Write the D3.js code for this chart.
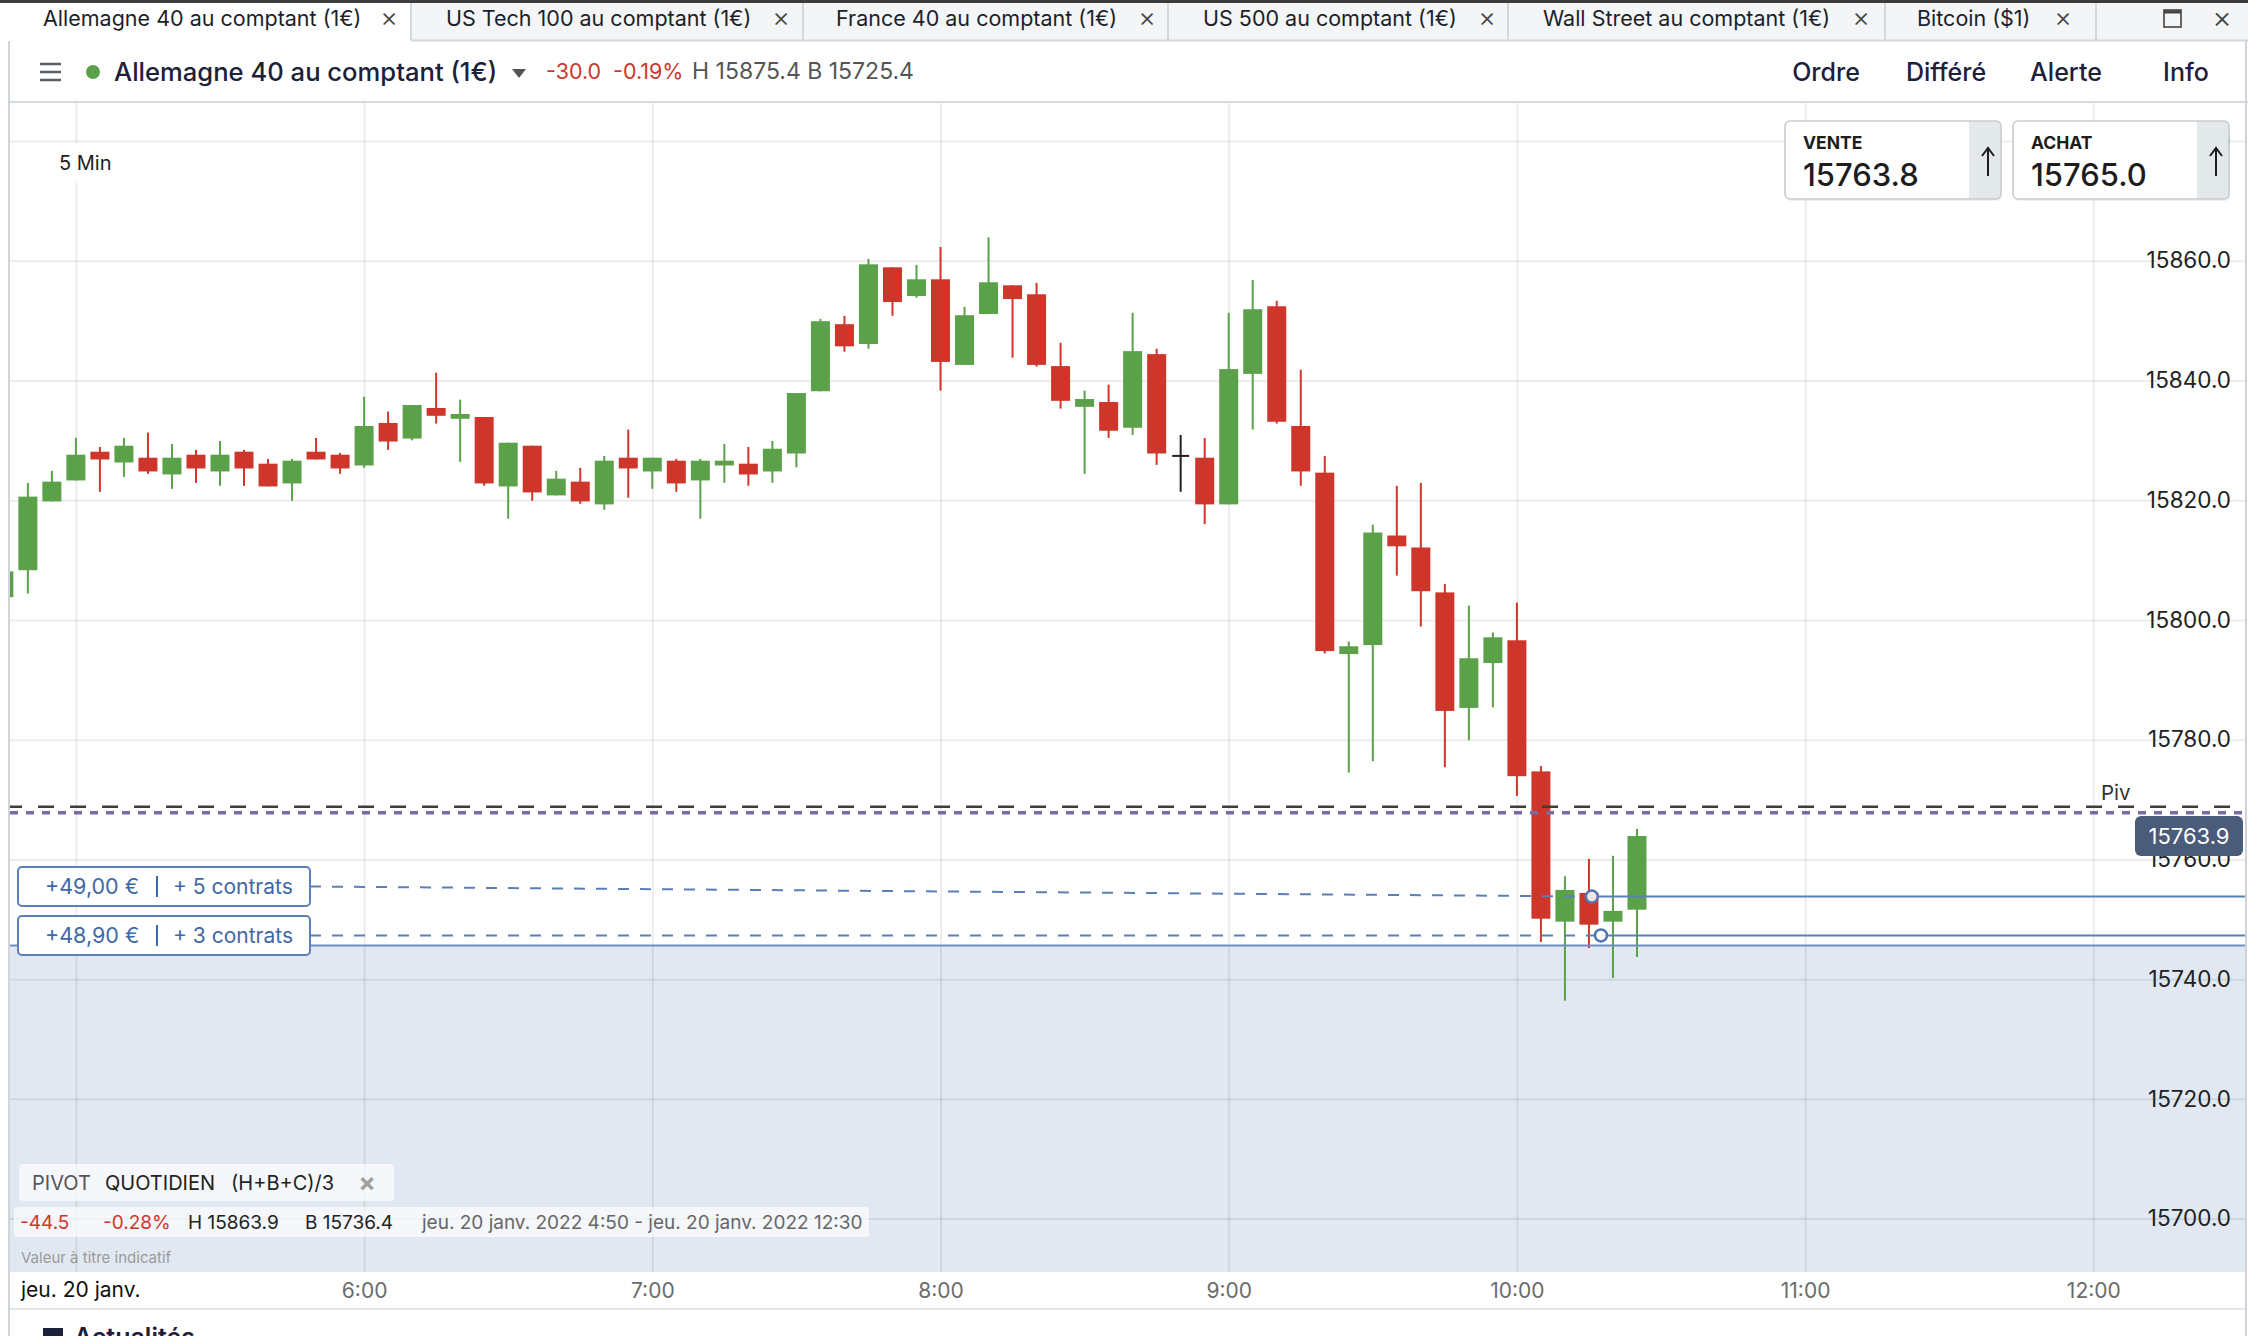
<!DOCTYPE html>
<html>
<head>
<meta charset="utf-8">
<script src="https://cdn.jsdelivr.net/npm/d3@7"></script>
<style>
body { margin: 0; background: #fff; }
svg { display: block; font-family: Inter, "Noto Sans", sans-serif; }
</style>
</head>
<body>
<svg id="chart" width="2248" height="1336"></svg>
<script>
// 5 min candles, jeu. 20 janv. 2022
const times = ["4:45","4:50","4:55","5:00","5:05","5:10","5:15","5:20","5:25","5:30","5:35","5:40","5:45","5:50","5:55",
  "6:00","6:05","6:10","6:15","6:20","6:25","6:30","6:35","6:40","6:45","6:50","6:55",
  "7:00","7:05","7:10","7:15","7:20","7:25","7:30","7:35","7:40","7:45","7:50","7:55",
  "8:00","8:05","8:10","8:15","8:20","8:25","8:30","8:35","8:40","8:45","8:50","8:55",
  "9:00","9:05","9:10","9:15","9:20","9:25","9:30","9:35","9:40","9:45","9:50","9:55",
  "10:00","10:05","10:10","10:15","10:20","10:25"];
const opens = [15803.8,15808.3,15819.8,15823.3,15828.1,15826.3,15827.1,15824.3,15827.6,15824.8,15828.1,15826.1,15822.8,15828.1,15827.6,
  15825.8,15832.9,15830.3,15835.4,15833.6,15833.9,15822.3,15829.1,15820.8,15823.1,15819.3,15827.1,
  15824.8,15826.6,15823.3,15825.8,15826.1,15824.8,15827.8,15838.2,15849.4,15846.1,15858.9,15854.1,
  15856.9,15842.6,15851.1,15855.9,15854.4,15842.4,15835.6,15836.4,15832.1,15844.4,15827.4,15827.1,
  15819.3,15841.1,15852.4,15832.4,15824.6,15794.3,15795.8,15814.1,15812.1,15804.6,15785.3,15792.8,
  15796.6,15774.7,15749.6,15754.4,15749.6,15751.6];
const highs = [15808.5,15822.9,15824.9,15830.4,15828.9,15830.4,15831.3,15829.4,15828.4,15829.9,15828.4,15826.9,15826.9,15830.4,15827.9,
  15837.3,15834.8,15835.9,15841.3,15836.8,15833.9,15829.6,15829.1,15824.9,15825.4,15827.4,15831.8,
  15827.1,15826.9,15826.9,15829.4,15828.9,15829.9,15837.9,15850.3,15850.8,15860.3,15858.9,15859.3,
  15862.3,15852.3,15863.9,15855.9,15856.3,15846.3,15838.3,15839.3,15851.3,15845.3,15830.9,15830.4,
  15851.3,15856.8,15853.3,15841.8,15827.4,15796.4,15815.9,15822.4,15822.9,15806.0,15802.4,15797.9,
  15802.9,15775.6,15757.2,15760.1,15760.6,15765.1];
const lows = [15803.5,15804.4,15819.8,15823.3,15821.4,15823.9,15824.4,15821.9,15822.9,15822.4,15822.4,15822.3,15819.9,15826.8,15824.4,
  15825.4,15828.4,15830.0,15832.8,15826.4,15822.4,15816.9,15819.9,15820.8,15819.4,15818.4,15820.4,
  15821.9,15821.4,15816.9,15822.9,15822.4,15822.9,15825.5,15838.2,15844.8,15845.3,15850.8,15853.8,
  15838.3,15842.6,15851.1,15843.8,15842.3,15835.3,15824.4,15830.4,15830.9,15825.9,15821.4,15816.0,
  15819.3,15831.8,15832.8,15822.4,15794.4,15774.5,15776.4,15807.4,15798.9,15775.4,15779.9,15785.4,
  15770.6,15746.2,15736.4,15745.2,15740.2,15743.7];
const closes = [15808.1,15820.6,15823.1,15827.6,15826.8,15829.1,15824.8,15827.1,15825.3,15827.6,15825.3,15822.3,15826.6,15826.8,15825.3,
  15832.4,15829.8,15835.9,15834.1,15834.4,15822.8,15829.6,15821.3,15823.6,15819.8,15826.6,15825.3,
  15827.1,15822.8,15826.6,15826.6,15824.3,15828.6,15837.9,15849.9,15845.7,15859.4,15853.1,15856.9,
  15843.1,15850.9,15856.4,15853.6,15842.6,15836.6,15836.9,15831.6,15844.9,15827.8,15827.4,15819.3,
  15841.9,15851.9,15833.1,15824.8,15794.8,15795.6,15814.6,15812.3,15804.8,15784.8,15793.6,15797.1,
  15773.9,15750.1,15754.9,15749.1,15751.4,15763.9];

const priceTicks = [15700, 15720, 15740, 15760, 15780, 15800, 15820, 15840, 15860, 15880];
const gridHours = ["5:00","6:00","7:00","8:00","9:00","10:00","11:00","12:00"];
const hourLabels = ["6:00","7:00","8:00","9:00","10:00","11:00","12:00"];

const lastPrice = 15763.9;
const pivotLevel = 15768.8;
const prevLevel = 15767.8;
const zoneLevel = 15745.6;
const positionLevels = [15753.8, 15747.3];
const positionTimes = ["10:15:36", "10:17:30"];
const positionPnl = ["+49,00 €", "+48,90 €"];
const positionSize = ["+ 5 contrats", "+ 3 contrats"];

const tabNames = ["Allemagne 40 au comptant (1€)", "US Tech 100 au comptant (1€)", "France 40 au comptant (1€)",
  "US 500 au comptant (1€)", "Wall Street au comptant (1€)", "Bitcoin ($1)"];
const menuItems = ["Ordre", "Différé", "Alerte", "Info"];

const GREEN = "#5aa14a", RED = "#cf362b";
const svg = d3.select("#chart");
const W = 2248, H = 1336;
const plot = { left: 10, right: 2245, top: 103, bottom: 1272 };

const parse = d3.timeParse("%H:%M");
const parseS = d3.timeParse("%H:%M:%S");
const x = d3.scaleTime().domain([parse("8:00"), parse("12:00")]).range([940.5, 2093.3]);
const y = d3.scaleLinear().domain([15700, 15880]).range([1218.6, 141]);

const candles = times.map((t, i) => ({ t: parse(t), o: opens[i], h: highs[i], l: lows[i], c: closes[i] }));

// ---------- tabs & header
function drawTabs() {
  const tabEdges = [0, 411, 803, 1168, 1508, 1885, 2096];
  const textX = [43, 446, 836, 1203, 1543, 1917];
  const closeX = [389, 781, 1147, 1487, 1861, 2063];
  const g = svg.append("g");
  g.append("rect").attr("x", 0).attr("y", 0).attr("width", W).attr("height", 41).attr("fill", "#f3f5f6");
  g.append("rect").attr("x", 0).attr("y", 0).attr("width", tabEdges[1]).attr("height", 42).attr("fill", "#fff");
  g.append("line").attr("x1", tabEdges[1]).attr("x2", W).attr("y1", 40.5).attr("y2", 40.5)
    .attr("stroke", "#d3d8dc").attr("stroke-width", 2);
  g.append("rect").attr("x", 0).attr("y", 0).attr("width", W).attr("height", 3).attr("fill", "#3c3c3c");
  tabNames.forEach((name, i) => {
    const x0 = tabEdges[i];
    if (i > 0) g.append("line").attr("x1", x0).attr("x2", x0).attr("y1", 3).attr("y2", 40)
      .attr("stroke", "#d3d8dc").attr("stroke-width", 2);
    g.append("text").attr("x", textX[i]).attr("y", 26)
      .attr("font-size", 21.5).attr("fill", "#1c1f2a").text(name);
    g.append("text").attr("x", closeX[i]).attr("y", 27).attr("text-anchor", "middle")
      .attr("font-size", 27).attr("font-weight", 300).attr("fill", "#444").text("×");
  });
  g.append("line").attr("x1", 2096).attr("x2", 2096).attr("y1", 3).attr("y2", 40).attr("stroke", "#d3d8dc").attr("stroke-width", 2);
  g.append("rect").attr("x", 2164).attr("y", 10).attr("width", 17).attr("height", 17)
    .attr("fill", "none").attr("stroke", "#444").attr("stroke-width", 1.6);
  g.append("line").attr("x1", 2164).attr("x2", 2181).attr("y1", 12).attr("y2", 12).attr("stroke", "#444").attr("stroke-width", 3);
  g.append("text").attr("x", 2222).attr("y", 28).attr("text-anchor", "middle")
    .attr("font-size", 30).attr("font-weight", 300).attr("fill", "#444").text("×");
}

function drawHeader() {
  const g = svg.append("g");
  [64, 72, 80].forEach(yy => g.append("line").attr("x1", 40).attr("x2", 61).attr("y1", yy).attr("y2", yy)
    .attr("stroke", "#5a5f66").attr("stroke-width", 2.5));
  g.append("circle").attr("cx", 93).attr("cy", 72).attr("r", 7).attr("fill", GREEN);
  g.append("text").attr("x", 114).attr("y", 81).attr("font-size", 25.6).attr("font-weight", 500)
    .attr("fill", "#1b2138").text("Allemagne 40 au comptant (1€)");
  g.append("path").attr("d", "M512,69 L526,69 L519,78 Z").attr("fill", "#555");
  const stats = g.append("text").attr("y", 79).attr("font-size", 21.5);
  stats.append("tspan").attr("x", 546).attr("fill", RED).text("-30.0");
  stats.append("tspan").attr("x", 613).attr("fill", RED).text("-0.19%");
  stats.append("tspan").attr("x", 692).attr("fill", "#555").attr("font-size", 23).text("H 15875.4 B 15725.4");
  const menuX = [1826, 1946, 2066, 2186];
  menuItems.forEach((m, i) => g.append("text").attr("x", menuX[i]).attr("y", 81).attr("text-anchor", "middle")
    .attr("font-size", 25).attr("font-weight", 500).attr("fill", "#1b2138").text(m));
  g.append("line").attr("x1", 9).attr("x2", W).attr("y1", 102).attr("y2", 102).attr("stroke", "#d6dadd").attr("stroke-width", 2);
  g.append("line").attr("x1", 9).attr("x2", 9).attr("y1", 41).attr("y2", H).attr("stroke", "#d0d5da").attr("stroke-width", 2);
  g.append("line").attr("x1", 2246).attr("x2", 2246).attr("y1", 41).attr("y2", H).attr("stroke", "#cfd3d7").attr("stroke-width", 2);
}

// ---------- plot background, grid, axes
function drawGrid() {
  svg.append("defs").append("clipPath").attr("id", "plotclip").append("rect")
    .attr("x", plot.left).attr("y", plot.top).attr("width", plot.right - plot.left).attr("height", plot.bottom - plot.top);

  svg.append("rect").attr("x", plot.left).attr("y", y(zoneLevel)).attr("width", plot.right - plot.left)
    .attr("height", plot.bottom - y(zoneLevel)).attr("fill", "#e1e8f1");

  const gy = svg.append("g").attr("transform", `translate(${plot.left},0)`)
    .call(d3.axisRight(y).tickValues(priceTicks).tickSize(plot.right - plot.left).tickFormat(""));
  gy.select(".domain").remove();
  gy.selectAll("line").attr("stroke", "#000").attr("stroke-opacity", 0.075).attr("stroke-width", 2);

  const gx = svg.append("g").attr("transform", `translate(0,${plot.top})`)
    .call(d3.axisBottom(x).tickValues(gridHours.map(parse)).tickSize(plot.bottom - plot.top).tickFormat(""));
  gx.select(".domain").remove();
  gx.selectAll("line").attr("stroke", "#000").attr("stroke-opacity", 0.075).attr("stroke-width", 2);

  // time axis band
  svg.append("rect").attr("x", plot.left).attr("y", plot.bottom).attr("width", plot.right - plot.left)
    .attr("height", 37).attr("fill", "#fff");
  const ax = svg.append("g").attr("transform", `translate(0,1290)`)
    .call(d3.axisBottom(x).tickValues(hourLabels.map(parse)).tickSize(0).tickFormat(d3.timeFormat("%-H:%M")));
  ax.select(".domain").remove();
  ax.selectAll("text").attr("y", 0).attr("dy", "0.36em").attr("font-family", "Inter, sans-serif")
    .attr("font-size", 21).attr("fill", "#6b6b6b");
  svg.append("text").attr("x", 21).attr("y", 1297).attr("font-size", 21).attr("fill", "#111").text("jeu. 20 janv.");
  svg.append("line").attr("x1", plot.left).attr("x2", plot.right).attr("y1", 1309).attr("y2", 1309)
    .attr("stroke", "#e3e6e9").attr("stroke-width", 2);
  svg.append("rect").attr("x", 43).attr("y", 1328).attr("width", 20).attr("height", 14).attr("fill", "#1b2138");
  svg.append("text").attr("x", 74).attr("y", 1346).attr("font-size", 25).attr("font-weight", 600)
    .attr("fill", "#1b2138").text("Actualités");

  // 5 Min label
  svg.append("rect").attr("x", 43).attr("y", 143).attr("width", 86).attr("height", 40).attr("fill", "#fff");
  svg.append("text").attr("x", 59).attr("y", 170).attr("font-size", 20).attr("fill", "#222").text("5 Min");
}

function drawPriceLabels() {
  const g = svg.append("g").attr("transform", "translate(2231,0)")
    .call(d3.axisLeft(y).tickValues(priceTicks).tickSize(0).tickPadding(0).tickFormat(d3.format(".1f")));
  g.select(".domain").remove();
  g.selectAll("text").attr("font-family", "Inter, sans-serif").attr("font-size", 22.5).attr("fill", "#222");
}

// ---------- candles
function drawCandles() {
  const g = svg.append("g").attr("clip-path", "url(#plotclip)");
  const colour = d => d.c > d.o ? GREEN : d.c < d.o ? RED : "#222";
  g.selectAll("line.wick").data(candles).enter().append("line").attr("class", "wick")
    .attr("x1", d => x(d.t)).attr("x2", d => x(d.t))
    .attr("y1", d => y(d.h)).attr("y2", d => y(d.l))
    .attr("stroke", colour).attr("stroke-width", 2);
  g.selectAll("rect.body").data(candles).enter().append("rect").attr("class", "body")
    .attr("x", d => x(d.t) - (d.c === d.o ? 8.5 : 9.5))
    .attr("width", d => d.c === d.o ? 17 : 19)
    .attr("y", d => d.c === d.o ? y(d.c) - 1 : y(Math.max(d.o, d.c)))
    .attr("height", d => Math.max(2, Math.abs(y(d.o) - y(d.c))))
    .attr("fill", colour);
}

// ---------- levels, positions
function drawLevels() {
  const g = svg.append("g").attr("clip-path", "url(#plotclip)");
  g.append("line").attr("x1", plot.left).attr("x2", 2233).attr("y1", y(pivotLevel)).attr("y2", y(pivotLevel))
    .attr("stroke", "#3d3d3d").attr("stroke-width", 2.5).attr("stroke-dasharray", "16,16").attr("stroke-dashoffset", 4);
  g.append("line").attr("x1", plot.left).attr("x2", plot.right).attr("y1", y(prevLevel)).attr("y2", y(prevLevel))
    .attr("stroke", "#7a6aa1").attr("stroke-width", 3.5).attr("stroke-dasharray", "8,8");
  svg.append("text").attr("x", 2101).attr("y", 800).attr("font-size", 20.5).attr("fill", "#333").text("Piv");

  g.append("line").attr("x1", plot.left).attr("x2", plot.right).attr("y1", y(zoneLevel)).attr("y2", y(zoneLevel))
    .attr("stroke", "#6f8fbf").attr("stroke-width", 2);

  const boxY = [867, 916];
  positionLevels.forEach((lvl, i) => {
    const cx = x(parseS(positionTimes[i])), cy = y(lvl);
    const by = boxY[i] + 19.5;
    g.append("line").attr("x1", 310).attr("x2", cx).attr("y1", by).attr("y2", cy)
      .attr("stroke", "#5a80b6").attr("stroke-width", 2).attr("stroke-dasharray", "11,11");
    g.append("line").attr("x1", cx).attr("x2", plot.right).attr("y1", cy).attr("y2", cy)
      .attr("stroke", "#5a80b6").attr("stroke-width", 2);
    g.append("circle").attr("cx", cx).attr("cy", cy).attr("r", 6)
      .attr("fill", i === 0 ? "#f8e4e6" : "#fff").attr("fill-opacity", i === 0 ? 1 : 0.85)
      .attr("stroke", "#4f76ae").attr("stroke-width", 2.5);

    const b = svg.append("g").attr("transform", `translate(18,${boxY[i]})`);
    b.append("rect").attr("width", 292).attr("height", 39).attr("rx", 4).attr("fill", "#fff")
      .attr("stroke", "#5a80b6").attr("stroke-width", 2);
    b.append("text").attr("x", 27).attr("y", 27).attr("font-size", 21.5).attr("fill", "#3e69a6").text(positionPnl[i]);
    b.append("line").attr("x1", 139).attr("x2", 139).attr("y1", 9).attr("y2", 30).attr("stroke", "#3e69a6").attr("stroke-width", 2);
    b.append("text").attr("x", 155).attr("y", 27).attr("font-size", 21).attr("fill", "#3e69a6").text(positionSize[i]);
  });

  // last price badge
  const yb = y(lastPrice);
  svg.append("rect").attr("x", 2135).attr("y", yb - 20).attr("width", 108).attr("height", 40).attr("rx", 6).attr("fill", "#4b5b7a");
  svg.append("text").attr("x", 2189).attr("y", yb + 7.5).attr("text-anchor", "middle").attr("font-size", 22)
    .attr("fill", "#fff").text(d3.format(".1f")(lastPrice));
}

function drawQuoteBoxes() {
  const boxes = [{ x: 1785, label: "VENTE", value: "15763.8" }, { x: 2013, label: "ACHAT", value: "15765.0" }];
  boxes.forEach(bx => {
    const g = svg.append("g").attr("transform", `translate(${bx.x},121)`);
    g.append("rect").attr("x", 1).attr("y", 2).attr("width", 216).attr("height", 78).attr("rx", 5).attr("fill", "#000").attr("opacity", 0.06);
    g.append("rect").attr("width", 216).attr("height", 78).attr("rx", 5).attr("fill", "#fff");
    g.append("path").attr("d", "M184,0 H211 A5,5 0 0 1 216,5 V73 A5,5 0 0 1 211,78 H184 Z").attr("fill", "#e3e8eb");
    g.append("rect").attr("width", 216).attr("height", 78).attr("rx", 5).attr("fill", "none")
      .attr("stroke", "#c7ccd1").attr("stroke-width", 1.6);
    g.append("text").attr("x", 18).attr("y", 28).attr("font-size", 17.5).attr("font-weight", 700).attr("fill", "#1d1d1d").text(bx.label);
    g.append("text").attr("x", 18).attr("y", 65).attr("font-size", 31).attr("font-weight", 500).attr("fill", "#1d1d1d").text(bx.value);
    g.append("path").attr("d", "M203,55 V28 M197,35 L203,27 L209,35").attr("fill", "none")
      .attr("stroke", "#1d1d1d").attr("stroke-width", 2);
  });
}

function drawPivotLegend() {
  const g = svg.append("g");
  g.append("rect").attr("x", 19).attr("y", 1164).attr("width", 375).attr("height", 37).attr("rx", 4).attr("fill", "#fff").attr("opacity", 0.65);
  const t = g.append("text").attr("y", 1190).attr("font-size", 20);
  t.append("tspan").attr("x", 32).attr("fill", "#555").text("PIVOT");
  t.append("tspan").attr("x", 105).attr("fill", "#222").text("QUOTIDIEN");
  t.append("tspan").attr("x", 231).attr("fill", "#222").text("(H+B+C)/3");
  g.append("text").attr("x", 367).attr("y", 1192).attr("font-size", 26).attr("font-weight", 700)
    .attr("text-anchor", "middle").attr("fill", "#a0a0a0").text("×");

  g.append("rect").attr("x", 14).attr("y", 1207).attr("width", 855).attr("height", 30).attr("rx", 3).attr("fill", "#fff").attr("opacity", 0.65);
  const r = g.append("text").attr("y", 1229).attr("font-size", 19);
  r.append("tspan").attr("x", 20).attr("fill", RED).text("-44.5");
  r.append("tspan").attr("x", 103).attr("fill", RED).text("-0.28%");
  r.append("tspan").attr("x", 188).attr("fill", "#222").text("H 15863.9");
  r.append("tspan").attr("x", 305).attr("fill", "#222").text("B 15736.4");
  r.append("tspan").attr("x", 422).attr("fill", "#666").text("jeu. 20 janv. 2022 4:50 - jeu. 20 janv. 2022 12:30");
  g.append("text").attr("x", 21).attr("y", 1263).attr("font-size", 15).attr("fill", "#9a9a9a").text("Valeur à titre indicatif");
}

drawTabs();
drawHeader();
drawGrid();
drawPriceLabels();
drawCandles();
drawLevels();
drawQuoteBoxes();
drawPivotLegend();
</script>
</body>
</html>
